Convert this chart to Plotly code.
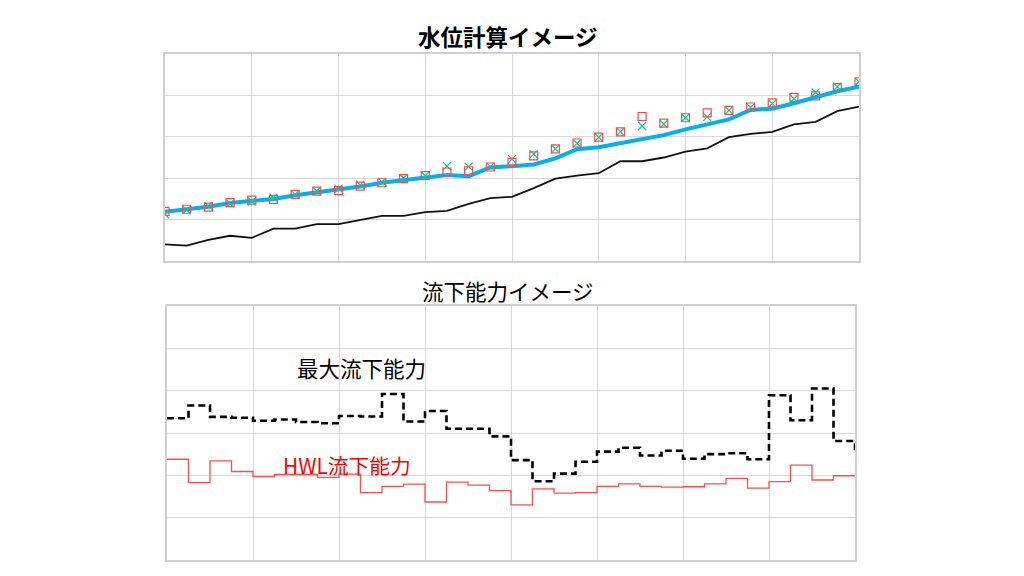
import plotly.graph_objects as go

# ---- top chart data (水位計算イメージ) ----
x_pts = list(range(33))
bed_level = [0.40, 0.37, 0.51, 0.61, 0.56, 0.78, 0.78, 0.89, 0.89, 0.99, 1.09,
             1.09, 1.18, 1.21, 1.38, 1.52, 1.55, 1.76, 1.99, 2.06, 2.12, 2.41,
             2.41, 2.50, 2.64, 2.72, 2.99, 3.07, 3.12, 3.30, 3.36, 3.62, 3.73]
calc_level = [1.19, 1.25, 1.31, 1.40, 1.46, 1.50, 1.59, 1.66, 1.71, 1.80, 1.89,
              1.96, 2.02, 2.08, 2.05, 2.26, 2.29, 2.33, 2.48, 2.70, 2.75, 2.84,
              2.94, 3.04, 3.18, 3.29, 3.42, 3.65, 3.68, 3.81, 3.95, 4.10, 4.21]
obs_square = [1.20, 1.25, 1.30, 1.41, 1.47, 1.49, 1.61, 1.69, 1.70, 1.81, 1.89,
              1.99, 2.06, 2.15, 2.18, 2.27, 2.38, 2.54, 2.71, 2.85, 2.99, 3.12,
              3.49, 3.33, 3.46, 3.58, 3.64, 3.72, 3.82, 3.95, 3.99, 4.19, 4.33]
obs_cross = [1.13, 1.23, 1.33, 1.39, 1.44, 1.53, 1.61, 1.69, 1.75, 1.84, 1.91,
             2.00, 2.06, 2.29, 2.28, 2.28, 2.46, 2.58, 2.71, 2.84, 2.99, 3.12,
             3.26, 3.31, 3.46, 3.48, 3.64, 3.71, 3.80, 3.92, 4.07, 4.21, 4.33]

# ---- bottom chart data (流下能力イメージ) ----
x_steps = list(range(33))
max_capacity = [3.35, 3.65, 3.38, 3.36, 3.29, 3.32, 3.26, 3.23, 3.40, 3.39, 3.92,
                3.27, 3.52, 3.10, 3.10, 2.92, 2.36, 1.86, 2.04, 2.32, 2.56, 2.65,
                2.47, 2.58, 2.39, 2.50, 2.52, 2.38, 3.89, 3.30, 4.05, 2.81, 2.52]
hwl_capacity = [2.38, 1.83, 2.34, 2.09, 1.97, 2.02, 2.02, 1.95, 2.03, 1.59, 1.74,
                1.79, 1.37, 1.84, 1.77, 1.64, 1.30, 1.68, 1.58, 1.59, 1.74, 1.80,
                1.74, 1.72, 1.73, 1.80, 1.93, 1.70, 1.85, 2.24, 1.89, 1.99, 1.99]

title_top = "水位計算イメージ"
title_bottom = "流下能力イメージ"
label_max = "最大流下能力"
label_hwl = "HWL流下能力"

FONT = "Noto Sans CJK JP"
GRID = "#d9d9d9"
BORDER = "#cfcfcf"

# page body has an 8px margin; figure sized so page fills 1024x576
OFF = 8
W, H = 1024 - 2 * OFF, 576 - 2 * OFF


def px(xp):
    return (xp - OFF) / W


def py(yp):
    return 1 - (yp - OFF) / H


fig = go.Figure()

fig.add_trace(go.Scatter(x=x_pts, y=bed_level, mode="lines",
                         line=dict(color="#111111", width=1.8),
                         xaxis="x", yaxis="y", showlegend=False))
fig.add_trace(go.Scatter(x=x_pts, y=calc_level, mode="lines",
                         line=dict(color="#00b0f0", width=4),
                         xaxis="x", yaxis="y", showlegend=False))
fig.add_trace(go.Scatter(x=x_pts, y=obs_cross, mode="markers",
                         marker=dict(symbol="x-thin-open", size=8,
                                     line=dict(color="#5cc48a", width=1.2)),
                         xaxis="x", yaxis="y", showlegend=False))
fig.add_trace(go.Scatter(x=x_pts, y=obs_square, mode="markers",
                         marker=dict(symbol="square-open", size=8, color="#ff4a4a",
                                     line=dict(color="#ff4a4a", width=1.2)),
                         xaxis="x", yaxis="y", showlegend=False))

fig.add_trace(go.Scatter(x=x_steps, y=max_capacity, mode="lines", line_shape="hv",
                         line=dict(color="#000000", width=2.6, dash="7px,4px"),
                         xaxis="x2", yaxis="y2", showlegend=False))
fig.add_trace(go.Scatter(x=x_steps, y=hwl_capacity, mode="lines", line_shape="hv",
                         line=dict(color="#ff4d4d", width=1.3),
                         xaxis="x2", yaxis="y2", showlegend=False))

axis_common = dict(showticklabels=False, ticks="", showgrid=True, gridcolor=GRID,
                   gridwidth=1, zeroline=False, showline=True, linecolor=BORDER,
                   linewidth=1.5, mirror=True, fixedrange=True)

fig.update_layout(
    width=W, height=H,
    margin=dict(l=0, r=0, t=0, b=0),
    paper_bgcolor="white", plot_bgcolor="white",
    font=dict(family=FONT, color="#000000"),
    xaxis=dict(domain=[px(165), px(859)], range=[0, 32], dtick=4, anchor="y", **axis_common),
    yaxis=dict(domain=[py(261), py(54)], range=[0, 5], dtick=1, anchor="x", **axis_common),
    xaxis2=dict(domain=[px(167), px(855)], range=[0, 32], dtick=4, anchor="y2", **axis_common),
    yaxis2=dict(domain=[py(560), py(306)], range=[0, 6], dtick=1, anchor="x2", **axis_common),
    annotations=[
        dict(text="<b>" + title_top + "</b>", x=px(508), y=py(36), xref="paper", yref="paper",
             xanchor="center", yanchor="middle",
             showarrow=False, font=dict(size=22.5, family=FONT, color="#000000")),
        dict(text=title_bottom, x=px(508), y=py(290), xref="paper", yref="paper",
             xanchor="center", yanchor="middle",
             showarrow=False, font=dict(size=21.5, family=FONT, color="#000000")),
        dict(text=label_max, x=px(361), y=py(367), xref="paper", yref="paper",
             xanchor="center", yanchor="middle",
             showarrow=False, font=dict(size=21.5, family=FONT, color="#000000")),
        dict(text=label_hwl, x=px(347), y=py(465), xref="paper", yref="paper",
             xanchor="center", yanchor="middle",
             showarrow=False, font=dict(size=20.8, family=FONT, color="#ff0000")),
    ],
)

fig.write_html("out.html")
